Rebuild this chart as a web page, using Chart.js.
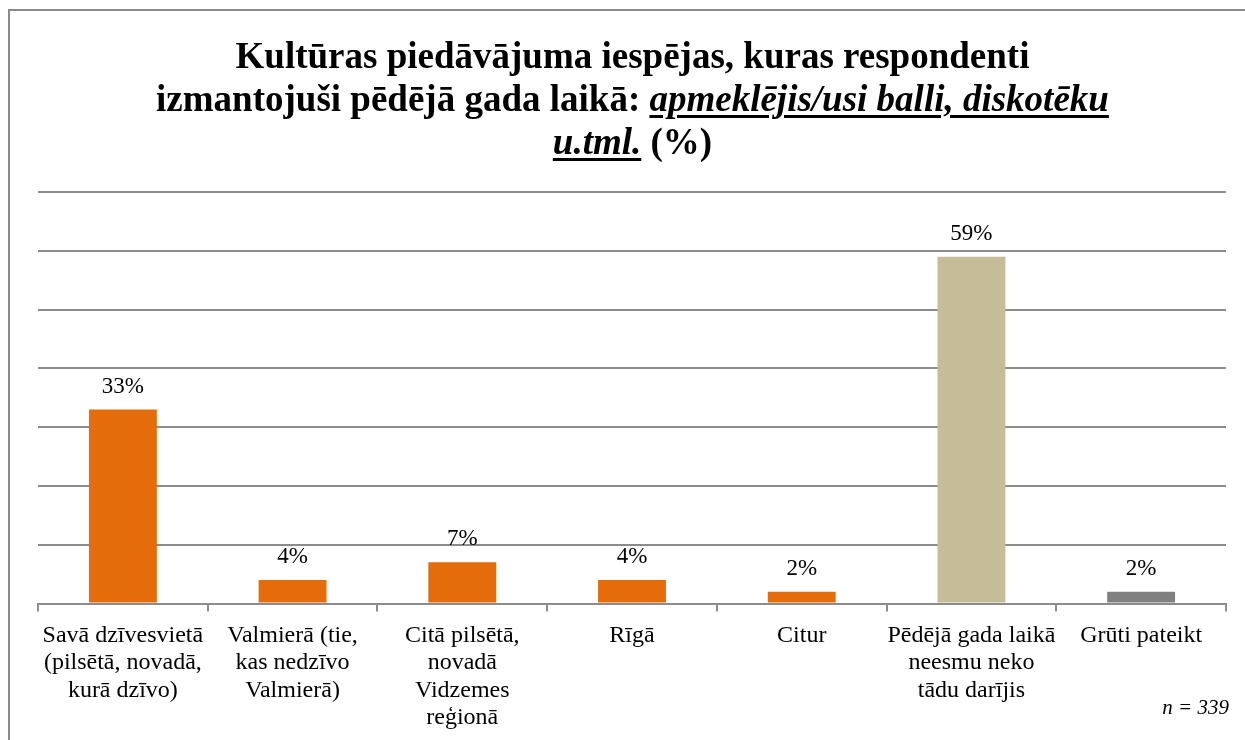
<!DOCTYPE html>
<html>
<head>
<meta charset="utf-8">
<script src="https://cdn.jsdelivr.net/npm/chart.js@4/dist/chart.umd.min.js"></script>
<style>
  body { margin: 0; background: #fff; }
  .wrap { position: relative; width: 1245px; height: 740px; overflow: hidden; font-family: "Liberation Serif", "Times New Roman", serif; }
  .frame { position: absolute; left: 8px; top: 9px; width: 1300px; height: 800px; border: 2px solid #8a8a8a; }
  .title { position: absolute; left: 0; top: 34px; width: 1265px; text-align: center; font-weight: bold; font-size: 37px; line-height: 43px; color: #000; }
  .title u { text-decoration-thickness: 3px; text-underline-offset: 4px; }
  .note { position: absolute; right: 16px; top: 695px; font-style: italic; font-size: 21px; color: #000; }
  canvas { position: absolute; left: 0; top: 0; }
</style>
</head>
<body>
<div class="wrap">
  <div class="frame"></div>
  <canvas id="chart" width="1245" height="744"></canvas>
  <div class="title">Kultūras piedāvājuma iespējas, kuras respondenti<br>izmantojuši pēdējā gada laikā: <u><i>apmeklējis/usi balli, diskotēku</i></u><br><u><i>u.tml.</i></u> (%)</div>
  <div class="note">n = 339</div>
</div>
<script>
// dati
const categories = [
    ["Savā dzīvesvietā", "(pilsētā, novadā,", "kurā dzīvo)"],
    ["Valmierā (tie,", "kas nedzīvo", "Valmierā)"],
    ["Citā pilsētā,", "novadā", "Vidzemes", "reģionā"],
    ["Rīgā"],
    ["Citur"],
    ["Pēdējā gada laikā", "neesmu neko", "tādu darījis"],
    ["Grūti pateikt"]
];
const values = [33, 4, 7, 4, 2, 59, 2];
const barColors = ["#E46C0A", "#E46C0A", "#E46C0A", "#E46C0A", "#E46C0A", "#C4BD97", "#808080"];
const yMax = 70;
const yStep = 10;

const serif = "'Liberation Serif', 'Times New Roman', serif";

// vērtību uzraksti virs stabiņiem
const valueLabels = {
    id: "valueLabels",
    afterDatasetsDraw(chart) {
        const ctx = chart.ctx;
        const meta = chart.getDatasetMeta(0);
        ctx.save();
        ctx.font = "23px " + serif;
        ctx.fillStyle = "#000";
        ctx.textAlign = "center";
        ctx.textBaseline = "alphabetic";
        meta.data.forEach((bar, i) => {
            ctx.fillText(values[i] + "%", bar.x, bar.y - 17);
        });
        ctx.restore();
    }
};

new Chart(document.getElementById("chart"), {
    type: "bar",
    data: {
        labels: categories,
        datasets: [{
            data: values,
            backgroundColor: barColors,
            barPercentage: 0.4,
            categoryPercentage: 1
        }]
    },
    options: {
        responsive: false,
        animation: false,
        layout: { padding: { left: 38, right: 19, top: 192, bottom: 2 } },
        plugins: {
            legend: { display: false },
            tooltip: { enabled: false }
        },
        scales: {
            x: {
                grid: { display: true, drawOnChartArea: false, drawTicks: true, tickLength: 8, offset: true, color: "#8c8c8c", lineWidth: 2 },
                border: { display: true, color: "#8c8c8c", width: 2 },
                ticks: {
                    color: "#000",
                    font: { family: serif, size: 24, lineHeight: 1.13 },
                    padding: 11,
                    maxRotation: 0,
                    autoSkip: false
                }
            },
            y: {
                min: 0,
                max: yMax,
                ticks: { display: false, stepSize: yStep },
                grid: { color: "#8c8c8c", lineWidth: 2, drawTicks: false },
                border: { display: false }
            }
        }
    },
    plugins: [valueLabels]
});
</script>
</body>
</html>
